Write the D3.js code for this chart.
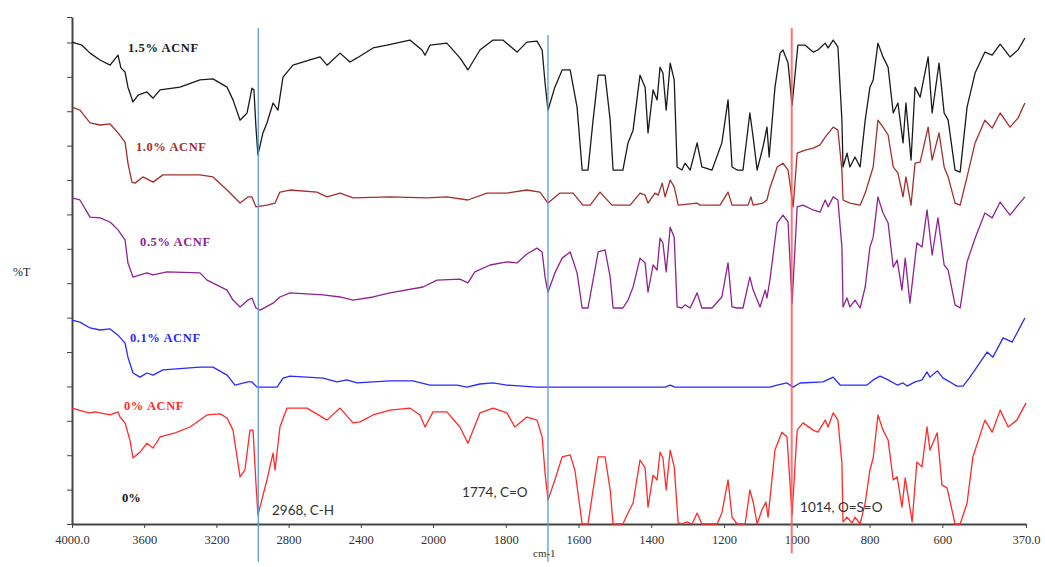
<!DOCTYPE html>
<html>
<head>
<meta charset="utf-8">
<script src="https://cdn.jsdelivr.net/npm/d3@7/dist/d3.min.js"></script>
<style>
  body { margin: 0; background: #fff; }
</style>
</head>
<body>
<svg id="chart" width="1045" height="567"></svg>
<script>
// wavenumber (cm-1) / stacked %T readings, one array per sample
const wavenumberTicks = [4000, 3600, 3200, 2800, 2400, 2000, 1800, 1600, 1400, 1200, 1000, 800, 600, 370];
const percentTicks = [0, 1, 2, 3, 4, 5, 6, 7, 8, 9, 10, 11, 12, 13, 14, 14.74];

const acnf15 = [[4000,14.01],[3945,13.92],[3900,13.69],[3845,13.49],[3789,13.34],[3745,13.63],[3729,13.26],[3706,13.14],[3690,12.70],[3662,12.27],[3634,12.47],[3585,12.56],[3551,12.38],[3512,12.62],[3402,12.70],[3291,12.91],[3219,12.94],[3141,12.70],[3108,12.33],[3069,11.74],[3030,11.95],[3003,12.67],[2992,12.62],[2981,11.54],[2970,10.73],[2942,11.37],[2920,11.66],[2886,12.24],[2859,12.03],[2831,12.99],[2776,13.34],[2682,13.49],[2626,13.58],[2587,13.34],[2515,13.69],[2460,13.43],[2421,13.55],[2332,13.84],[2255,13.92],[2128,14.07],[2061,13.78],[2044,13.63],[2017,13.92],[1962,13.98],[1926,13.55],[1904,13.20],[1871,13.78],[1835,14.07],[1808,14.07],[1769,13.72],[1742,14.01],[1714,14.04],[1700,13.78],[1692,12.82],[1684,12.03],[1665,12.70],[1645,13.20],[1623,13.20],[1604,12.12],[1590,10.29],[1574,10.29],[1560,11.74],[1546,13.05],[1527,13.05],[1513,11.74],[1505,10.29],[1478,10.29],[1464,11.08],[1450,11.45],[1431,13.05],[1417,12.70],[1409,11.37],[1395,12.62],[1384,12.33],[1376,13.28],[1368,13.11],[1359,12.03],[1348,13.40],[1337,12.91],[1329,10.38],[1316,10.29],[1307,10.49],[1293,10.29],[1274,11.08],[1261,10.38],[1233,10.29],[1206,11.08],[1189,12.33],[1178,10.38],[1164,10.29],[1148,10.29],[1129,11.95],[1120,11.25],[1109,10.29],[1093,10.96],[1082,11.54],[1076,10.67],[1060,12.70],[1046,13.69],[1038,13.78],[1024,13.40],[1013,12.18],[997,13.92],[977,13.92],[955,13.72],[942,13.78],[922,13.98],[914,13.84],[900,14.07],[887,13.87],[876,11.74],[873,10.38],[862,10.78],[854,10.38],[840,10.67],[826,10.38],[812,11.74],[799,12.70],[790,12.91],[777,13.98],[763,13.58],[749,13.28],[735,11.95],[722,12.24],[708,11.08],[700,12.24],[686,10.58],[675,12.70],[661,12.41],[639,13.58],[628,11.95],[609,13.40],[595,11.95],[584,11.74],[565,10.29],[551,10.23],[532,12.12],[510,13.11],[483,13.72],[463,13.63],[441,13.95],[414,13.58],[392,13.78],[373,14.13]];

const acnf10 = [[4000,12.12],[3956,12.03],[3900,11.66],[3845,11.60],[3789,11.63],[3745,11.37],[3706,11.10],[3690,10.49],[3668,9.94],[3651,9.91],[3607,10.09],[3551,9.94],[3496,10.15],[3291,10.15],[3219,10.09],[3141,9.71],[3069,9.33],[3025,9.51],[3003,9.51],[2981,9.22],[2920,9.27],[2875,9.33],[2848,9.65],[2792,9.71],[2643,9.65],[2587,9.51],[2515,9.62],[2443,9.48],[2238,9.51],[2033,9.48],[1962,9.51],[1904,9.42],[1852,9.62],[1797,9.62],[1742,9.71],[1706,9.65],[1684,9.33],[1651,9.62],[1615,9.62],[1588,9.27],[1568,9.27],[1541,9.65],[1508,9.27],[1458,9.27],[1431,9.62],[1417,9.56],[1409,9.33],[1390,9.62],[1381,9.56],[1370,9.91],[1362,9.51],[1348,10.00],[1337,9.80],[1326,9.27],[1274,9.33],[1266,9.27],[1211,9.27],[1189,9.65],[1178,9.27],[1134,9.27],[1126,9.51],[1120,9.27],[1093,9.33],[1082,9.42],[1074,9.77],[1054,10.38],[1038,10.49],[1024,10.29],[1010,9.22],[999,10.78],[977,10.87],[955,10.93],[936,11.02],[922,11.25],[900,11.54],[887,11.45],[876,10.29],[873,9.42],[854,9.33],[826,9.27],[812,9.62],[790,10.38],[777,11.74],[763,11.54],[749,11.31],[735,10.38],[722,10.20],[708,9.51],[700,10.09],[686,9.27],[675,10.49],[661,10.52],[639,11.54],[628,10.58],[609,11.37],[595,10.38],[584,10.09],[565,9.33],[551,9.27],[532,10.09],[510,11.08],[483,11.74],[463,11.51],[441,11.95],[414,11.54],[392,11.80],[373,12.24]];

const acnf05 = [[4000,9.48],[3956,9.42],[3900,8.92],[3845,8.90],[3789,8.78],[3745,8.55],[3706,8.26],[3690,7.59],[3662,7.18],[3623,7.24],[3585,7.30],[3551,7.24],[3474,7.33],[3291,7.30],[3252,7.09],[3141,6.80],[3108,6.51],[3069,6.31],[3025,6.51],[3003,6.57],[2981,6.28],[2958,6.22],[2886,6.42],[2848,6.60],[2792,6.72],[2609,6.66],[2515,6.60],[2443,6.51],[2332,6.60],[2238,6.72],[2055,6.89],[1989,7.09],[1926,7.12],[1904,7.01],[1885,7.33],[1843,7.53],[1797,7.62],[1769,7.59],[1742,7.85],[1714,8.02],[1700,7.91],[1692,7.18],[1684,6.74],[1665,7.30],[1645,7.73],[1623,7.91],[1604,7.30],[1590,6.28],[1574,6.28],[1560,7.09],[1546,7.91],[1527,7.97],[1513,7.18],[1505,6.28],[1478,6.28],[1464,6.51],[1450,6.89],[1431,7.73],[1417,7.59],[1409,6.74],[1395,7.53],[1384,7.38],[1376,8.31],[1368,8.17],[1359,7.33],[1348,8.63],[1337,8.34],[1329,6.31],[1316,6.28],[1307,6.37],[1293,6.28],[1274,6.72],[1261,6.28],[1233,6.28],[1206,6.60],[1189,7.59],[1178,6.31],[1164,6.28],[1148,6.28],[1129,7.18],[1120,6.80],[1101,6.31],[1087,6.80],[1082,6.57],[1074,7.09],[1054,8.75],[1038,8.98],[1024,8.78],[1013,6.42],[999,9.22],[983,9.27],[955,9.13],[936,9.07],[922,9.42],[914,9.22],[900,9.51],[887,9.42],[876,8.05],[873,6.31],[862,6.57],[854,6.31],[840,6.51],[826,6.28],[812,6.89],[799,8.05],[790,8.34],[777,9.51],[763,9.04],[749,8.75],[735,7.47],[724,7.67],[711,6.80],[702,7.73],[689,6.42],[670,8.17],[656,8.05],[642,9.13],[628,7.82],[612,8.90],[595,7.53],[584,7.38],[565,6.37],[551,6.28],[532,7.62],[510,8.31],[483,9.04],[463,8.90],[441,9.36],[414,8.98],[392,9.27],[373,9.51]];

const acnf01 = [[4000,5.93],[3956,5.87],[3900,5.70],[3845,5.64],[3789,5.67],[3745,5.49],[3706,5.26],[3690,4.85],[3662,4.39],[3623,4.27],[3585,4.39],[3551,4.33],[3496,4.48],[3291,4.56],[3219,4.56],[3141,4.33],[3097,4.04],[3025,4.13],[3003,4.13],[2975,3.98],[2864,3.98],[2831,4.24],[2792,4.30],[2609,4.24],[2532,4.13],[2477,4.19],[2421,4.10],[2238,4.16],[2111,4.16],[2017,4.04],[1934,4.04],[1907,3.98],[1871,4.07],[1835,4.10],[1797,4.04],[1714,3.98],[1362,3.98],[1348,4.04],[1335,3.98],[1074,3.98],[1054,4.04],[1027,4.10],[1010,3.98],[991,4.10],[928,4.13],[900,4.27],[881,4.04],[807,4.04],[790,4.19],[771,4.30],[749,4.19],[724,4.04],[708,4.10],[697,4.01],[675,4.13],[656,4.19],[642,4.42],[634,4.27],[614,4.45],[598,4.24],[579,4.13],[560,4.01],[543,4.01],[524,4.27],[477,5.00],[461,4.85],[433,5.41],[408,5.29],[386,5.73],[373,5.99]];

const acnf00 = [[4000,3.37],[3928,3.26],[3900,3.23],[3873,3.26],[3789,3.17],[3745,3.26],[3734,3.11],[3706,2.94],[3679,2.44],[3662,1.92],[3623,2.09],[3585,2.35],[3551,2.21],[3512,2.53],[3429,2.65],[3346,2.82],[3252,3.17],[3180,3.20],[3141,3.08],[3108,2.73],[3069,1.37],[3042,1.57],[3014,2.73],[2997,2.73],[2981,1.19],[2970,0.26],[2920,1.28],[2886,2.06],[2875,1.57],[2848,2.82],[2809,3.37],[2698,3.37],[2587,3.02],[2515,3.37],[2443,2.94],[2404,2.97],[2332,3.17],[2238,3.31],[2128,3.37],[2072,3.17],[2044,2.82],[2000,3.26],[1962,3.26],[1926,2.82],[1904,2.35],[1871,3.23],[1835,3.37],[1797,3.23],[1775,2.82],[1742,3.11],[1714,3.02],[1700,2.53],[1692,1.48],[1684,0.70],[1665,1.28],[1645,1.95],[1623,2.01],[1610,1.57],[1590,0],[1574,0],[1560,0.99],[1546,1.95],[1527,1.95],[1513,0.99],[1505,0],[1478,0],[1464,0.32],[1450,0.61],[1431,1.86],[1417,1.63],[1409,0.49],[1395,1.42],[1384,1.28],[1376,2.09],[1368,1.92],[1359,0.99],[1348,2.15],[1337,1.66],[1326,0.03],[1316,0],[1302,0.06],[1288,0],[1274,0.32],[1261,0],[1219,0],[1206,0.32],[1189,1.28],[1178,0.20],[1164,0],[1142,0],[1129,0.99],[1120,0.64],[1109,0],[1096,0.41],[1085,0.64],[1079,0.20],[1060,2.15],[1041,2.67],[1027,2.53],[1013,0.26],[999,2.73],[983,2.94],[955,2.73],[942,2.67],[922,3.02],[914,2.82],[900,3.23],[887,3.02],[876,1.77],[873,0.06],[862,0.20],[848,0.03],[840,0.20],[826,0],[812,0.61],[799,1.57],[790,1.92],[777,3.17],[763,2.73],[749,2.44],[735,1.28],[724,1.37],[711,0.49],[702,1.34],[683,0.06],[670,1.80],[656,1.66],[642,2.82],[634,2.15],[614,2.65],[601,1.13],[587,1.05],[565,0],[551,0],[532,0.61],[516,1.95],[483,3.02],[463,2.67],[441,3.31],[419,2.82],[395,3.02],[370,3.52]];

// sample names, label anchor (wavenumber, %T) and colours
const seriesNames = ["1.5% ACNF", "1.0% ACNF", "0.5% ACNF", "0.1% ACNF", "0% ACNF"];
const seriesData = [acnf15, acnf10, acnf05, acnf01, acnf00];
const seriesColors = ["#1a1a1a", "#a3302c", "#8e2391", "#2a2aff", "#ff2a2a"];
const labelAnchors = [[3690, 13.72], [3646, 10.84], [3623, 8.08], [3679, 5.29], [3712, 3.31]];

// band markers: position of the drawn line, and its caption
const markerPositions = [2968, 1684, 1014];
const markerCaptions = ["2968, C-H", "1774, C=O", "1014, O=S=O"];
const captionAnchors = [[2892, 0.26], [1920, 0.78], [991, 0.35]];
const markerColors = ["#5b9bd5", "#5b9bd5", "#ff5c5c"];

const svg = d3.select("#chart");

const margin = {left: 72, right: 19, top: 17, bottom: 43};
const width = 1045, height = 567;

// the x axis changes scale at 2000 cm-1, as on the instrument print-out
const x = d3.scaleLinear()
    .domain([4000, 2000, 370])
    .range([margin.left, 433, width - margin.right]);

const y = d3.scaleLinear()
    .domain([0, 14.74])
    .range([height - margin.bottom, margin.top]);

const line = d3.line()
    .x(d => x(d[0]))
    .y(d => y(d[1]));

// axes
const xAxis = svg.append("g")
    .attr("transform", `translate(0,${y(0)})`)
    .call(d3.axisBottom(x)
        .tickValues(wavenumberTicks)
        .tickFormat(d => (d === 4000 || d === 370) ? d.toFixed(1) : d)
        .tickSize(4)
        .tickSizeOuter(0));
xAxis.select(".domain").attr("stroke", "#444").attr("stroke-width", 2);
xAxis.selectAll(".tick line").attr("stroke", "#444");
xAxis.selectAll(".tick text")
    .attr("dy", "0.2em")
    .attr("y", 17)
    .style("font-family", "'Liberation Serif', serif")
    .style("font-size", "12.5px")
    .attr("fill", "#333");

const yAxis = svg.append("g")
    .attr("transform", `translate(${margin.left},0)`)
    .call(d3.axisLeft(y)
        .tickValues(percentTicks)
        .tickFormat("")
        .tickSize(5)
        .tickSizeOuter(0));
yAxis.select(".domain").attr("stroke", "#444").attr("stroke-width", 2);
yAxis.selectAll(".tick line").attr("stroke", "#444");

// spectra
svg.append("g")
    .selectAll("path")
    .data(seriesData)
    .join("path")
    .attr("d", line)
    .attr("fill", "none")
    .attr("stroke", (d, i) => seriesColors[i])
    .attr("stroke-width", 1.3)
    .attr("stroke-linejoin", "round");

// series labels
svg.append("g")
    .selectAll("text")
    .data(seriesNames)
    .join("text")
    .attr("x", (d, i) => x(labelAnchors[i][0]))
    .attr("y", (d, i) => y(labelAnchors[i][1]))
    .attr("fill", (d, i) => seriesColors[i])
    .style("font-family", "'Liberation Serif', serif")
    .style("font-weight", "bold")
    .style("font-size", "12.5px")
    .style("letter-spacing", "0.6px")
    .text(d => d);

svg.append("text")
    .attr("x", x(3723))
    .attr("y", y(0.64))
    .attr("fill", "#111")
    .style("font-family", "'Liberation Serif', serif")
    .style("font-weight", "bold")
    .style("font-size", "12.5px")
    .text("0%");

// band marker lines
svg.append("g")
    .selectAll("line")
    .data(markerPositions)
    .join("line")
    .attr("x1", d => x(d))
    .attr("x2", d => x(d))
    .attr("y1", (d, i) => y(i === 1 ? 14.22 : 14.42))
    .attr("y2", (d, i) => y(i === 2 ? -0.85 : -1.1))
    .attr("stroke", (d, i) => markerColors[i])
    .attr("stroke-width", (d, i) => i === 2 ? 2 : 1.3)
    .attr("opacity", (d, i) => i === 2 ? 0.85 : 1);

svg.append("g")
    .selectAll("text")
    .data(markerCaptions)
    .join("text")
    .attr("x", (d, i) => x(captionAnchors[i][0]))
    .attr("y", (d, i) => y(captionAnchors[i][1]))
    .attr("fill", "#333")
    .style("font-family", "Lato, 'Open Sans', sans-serif")
    .style("font-size", "13.5px")
    .text(d => d);

// axis titles
svg.append("text")
    .attr("x", 13)
    .attr("y", 276)
    .attr("fill", "#222")
    .style("font-family", "'Liberation Serif', serif")
    .style("font-size", "12px")
    .text("%T");

svg.append("text")
    .attr("x", 533)
    .attr("y", 557)
    .attr("fill", "#333")
    .style("font-family", "'Liberation Serif', serif")
    .style("font-size", "11px")
    .text("cm-1");
</script>
</body>
</html>
